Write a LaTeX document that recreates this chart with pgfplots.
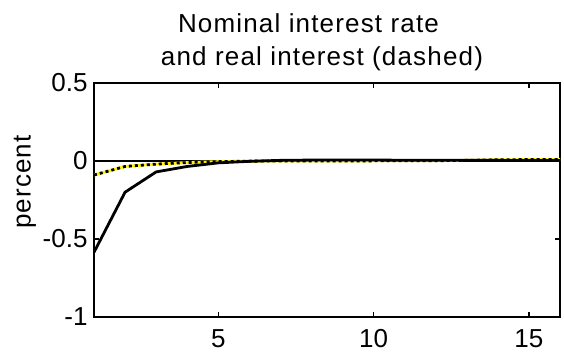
\documentclass[border=0pt]{standalone}
\usepackage{pgfplots}
\pgfplotsset{compat=1.18}
\usepackage{fontspec}
\setmainfont{Liberation Sans}
\newfontfamily\spaced[LetterSpace=4.5]{Liberation Sans}

% impulse responses, quarters 1..16
\pgfplotstableread{
x  nominal real
1  -0.585 -0.090
2  -0.200 -0.035
3  -0.070 -0.020
4  -0.035 -0.010
5  -0.012 -0.004
6  -0.002 -0.001
7   0.004  0.000
8   0.006  0.000
9   0.006  0.000
10  0.006  0.001
11  0.005  0.001
12  0.005  0.002
13  0.004  0.004
14  0.004  0.008
15  0.003  0.009
16  0.003  0.010
}\irf

\begin{document}
\begin{tikzpicture}[font=\fontsize{26}{30}\selectfont]
\begin{axis}[
  scale only axis,
  width=466pt, height=234pt,
  xmin=1, xmax=16, ymin=-1, ymax=0.5,
  xtick={5,10,15}, ytick={-1,-0.5,0,0.5},
  tick align=inside, major tick length=5pt,
  tick style={line width=1.5pt, black},
  axis line style={line width=2.8pt},
  /pgf/number format/assume math mode=true,
  tick label style={font=\fontsize{26}{28}\selectfont},
  yticklabel style={xshift=-3pt},
  xticklabel style={yshift=-9pt},
  ylabel={percent},
  ylabel style={at={(axis description cs:-0.148,0.577)}, anchor=center, font=\fontsize{26}{30}\spaced},
  title={Nominal interest rate\hspace*{27pt}\\and real interest (dashed)},
  title style={align=center, font=\fontsize{26}{33}\spaced, yshift=3pt, xshift=-5pt},
]
\addplot[black, line width=1.6pt] coordinates {(1,0) (16,0)};
\addplot[yellow, line width=2.8pt] table[x=x, y=real] {\irf};
\addplot[black, line width=2.8pt, dash pattern=on 3pt off 3pt] table[x=x, y=real] {\irf};
\addplot[black, line width=2.8pt] table[x=x, y=nominal] {\irf};
\end{axis}
\path ([xshift=-94pt,yshift=-38pt]current axis.south west) rectangle ([xshift=4pt,yshift=83pt]current axis.north east);
\end{tikzpicture}
\end{document}
